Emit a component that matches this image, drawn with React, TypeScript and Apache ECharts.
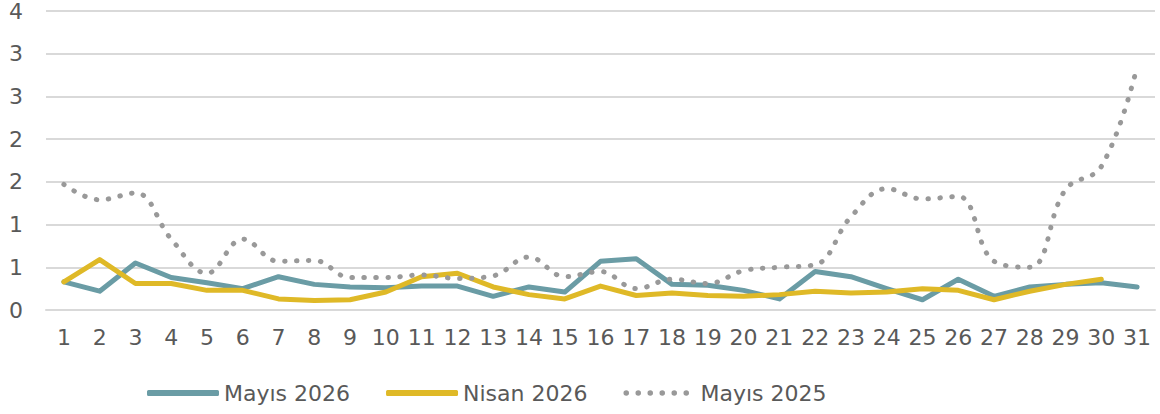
import React, { useEffect, useRef } from "react";
import * as echarts from "echarts";

const days = Array.from({ length: 31 }, (_, i) => String(i + 1));

const mayis2026 = [
  0.33, 0.22, 0.55, 0.38, 0.32, 0.25, 0.39, 0.3, 0.27, 0.26,
  0.28, 0.28, 0.16, 0.27, 0.21, 0.57, 0.6, 0.3, 0.29, 0.23,
  0.13, 0.45, 0.39, 0.25, 0.12, 0.36, 0.16, 0.27, 0.3, 0.32, 0.27,
];

const nisan2026 = [
  0.33, 0.59, 0.31, 0.31, 0.23, 0.23, 0.13, 0.11, 0.12, 0.21,
  0.39, 0.43, 0.27, 0.18, 0.13, 0.28, 0.17, 0.2, 0.17, 0.16,
  0.18, 0.22, 0.2, 0.21, 0.25, 0.23, 0.12, 0.22, 0.3, 0.36, null,
];

const mayis2025 = [
  1.47, 1.29, 1.37, 0.83, 0.43, 0.83, 0.57, 0.58, 0.38, 0.38,
  0.41, 0.37, 0.4, 0.62, 0.39, 0.45, 0.25, 0.36, 0.31, 0.46,
  0.5, 0.53, 1.09, 1.42, 1.3, 1.33, 0.57, 0.5, 1.41, 1.68, 2.85,
];

const seriesNames = ["Mayıs 2026", "Nisan 2026", "Mayıs 2025"];

const FONT = "DejaVu Sans";
const TEXT = "#595959";

// six dots for the dotted legend icon
const dotsIcon =
  "path://" +
  [0, 1, 2, 3, 4, 5]
    .map((i) => {
      const cx = 3 + i * 13;
      return `M${cx - 3},3a3,3 0 1,0 6,0a3,3 0 1,0 -6,0z`;
    })
    .join(" ") +
  " M0,0 M78,0 M0,6";

export default function App() {
  const ref = useRef<HTMLDivElement>(null);
  useEffect(() => {
    document.body.style.margin = "0";
    const chart = echarts.init(ref.current!, null, { renderer: "svg" });
    chart.setOption({
      animation: false,
      backgroundColor: "#ffffff",
      textStyle: { fontFamily: FONT },
      grid: { left: 46, right: 5, top: 11, bottom: 104, containLabel: false },
      legend: {
        left: 142,
        top: 375,
        itemWidth: 72,
        itemHeight: 6,
        itemGap: 36,
        textStyle: { fontFamily: FONT, fontSize: 22, color: TEXT, lineHeight: 26 },
        data: [
          { name: seriesNames[0], icon: "roundRect" },
          { name: seriesNames[1], icon: "roundRect" },
          { name: seriesNames[2], icon: dotsIcon },
        ],
      },
      xAxis: {
        type: "category",
        data: days,
        boundaryGap: true,
        axisLine: { show: true, lineStyle: { color: "#d9d9d9", width: 2 } },
        axisTick: { show: false },
        axisLabel: { color: TEXT, fontSize: 22, fontFamily: FONT, margin: 16, interval: 0 },
      },
      yAxis: {
        type: "value",
        min: 0,
        max: 3.5,
        interval: 0.5,
        axisLine: { show: false },
        axisTick: { show: false },
        splitLine: { lineStyle: { color: "#d9d9d9", width: 2 } },
        axisLabel: {
          color: TEXT,
          fontSize: 22,
          fontFamily: FONT,
          margin: 23,
          formatter: (v: number) => String(Math.round(v)),
        },
      },
      series: [
        {
          name: seriesNames[0],
          type: "line",
          data: mayis2026,
          symbol: "none",
          color: "#6a9ca5",
          lineStyle: { width: 5, color: "#6a9ca5", join: "round", cap: "round" },
        },
        {
          name: seriesNames[1],
          type: "line",
          data: nisan2026,
          symbol: "none",
          color: "#dfb927",
          lineStyle: { width: 5, color: "#dfb927", join: "round", cap: "round" },
        },
        {
          name: seriesNames[2],
          type: "line",
          data: mayis2025,
          symbol: "none",
          smooth: 0.4,
          color: "#999999",
          lineStyle: { width: 5, color: "#999999", type: [0.5, 11.5], cap: "round" },
        },
      ],
    });
    return () => chart.dispose();
  }, []);
  return <div ref={ref} style={{ width: 1160, height: 414 }} />;
}
